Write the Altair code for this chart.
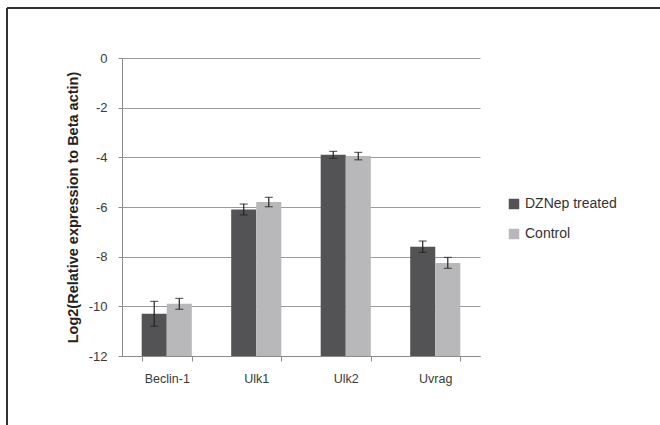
import altair as alt
import pandas as pd

genes = ["Beclin-1", "Ulk1", "Ulk2", "Uvrag"]
series = ["DZNep treated", "Control"]
dznep_vals = [-10.3, -6.1, -3.9, -7.6]
dznep_err = [0.5, 0.22, 0.14, 0.23]
control_vals = [-9.9, -5.8, -3.95, -8.25]
control_err = [0.22, 0.19, 0.15, 0.22]
y_ticks = [-12, -10, -8, -6, -4, -2, 0]

rows = []
for i, g in enumerate(genes):
    rows.append({"gene": g, "series": series[0], "value": dznep_vals[i],
                 "lo": dznep_vals[i] - dznep_err[i], "hi": dznep_vals[i] + dznep_err[i]})
    rows.append({"gene": g, "series": series[1], "value": control_vals[i],
                 "lo": control_vals[i] - control_err[i], "hi": control_vals[i] + control_err[i]})
df = pd.DataFrame(rows)

FONT = "Liberation Sans"
W, H = 358, 298

x_enc = alt.X("gene:N", sort=genes, title=None,
              scale=alt.Scale(paddingInner=0.44, paddingOuter=0.22),
              axis=alt.Axis(labelAngle=0, tickBand="extent", labelFontSize=12.5,
                            labelColor="#3a3a3a", labelFont=FONT, labelPadding=11,
                            domainColor="#8c8c8c", tickColor="#8c8c8c", tickSize=5))
xo = alt.XOffset("series:N", sort=series, scale=alt.Scale(paddingInner=0))

bars = alt.Chart(df).mark_bar(stroke=None).encode(
    x=x_enc,
    xOffset=xo,
    y=alt.Y("value:Q", scale=alt.Scale(domain=[-12, 0], nice=False, zero=False),
            title="Log2(Relative expression to Beta actin)",
            axis=alt.Axis(values=y_ticks, gridColor="#9a9a9a", gridWidth=1,
                          labelExpr="toString(datum.value)",
                          domainColor="#8c8c8c", tickColor="#8c8c8c", tickSize=4,
                          labelFontSize=13, labelColor="#3a3a3a", labelFont=FONT,
                          labelPadding=11, titleFont=FONT, titleFontSize=14.5,
                          titleFontWeight="bold", titleColor="#222222",
                          titleX=-49, titleY=H / 2, titleAngle=270,
                          titleAlign="center", titleBaseline="middle")),
    y2=alt.datum(-12),
    color=alt.Color("series:N", sort=series,
                    scale=alt.Scale(domain=series, range=["#535355", "#b8b8ba"]),
                    legend=alt.Legend(title=None, orient="none", legendX=385, legendY=139,
                                      symbolType="square", symbolSize=110,
                                      symbolStrokeWidth=0, labelFont=FONT,
                                      labelFontSize=14, labelColor="#333333",
                                      rowPadding=16, labelOffset=4)),
)

err = alt.Chart(df).mark_rule(color="#222222", strokeWidth=1.2).encode(
    x=alt.X("gene:N", sort=genes), xOffset=xo,
    y="lo:Q", y2="hi:Q")

cap_lo = alt.Chart(df).mark_tick(color="#222222", thickness=1.2, size=8, orient="horizontal").encode(
    x=alt.X("gene:N", sort=genes), xOffset=xo, y="lo:Q")
cap_hi = alt.Chart(df).mark_tick(color="#222222", thickness=1.2, size=8, orient="horizontal").encode(
    x=alt.X("gene:N", sort=genes), xOffset=xo, y="hi:Q")

frame_left = alt.Chart(df).mark_rule(color="#333333", strokeWidth=1.2).encode(
    x=alt.value(-115), y=alt.value(-50), y2=alt.value(H + 80))
frame_top = alt.Chart(df).mark_rule(color="#333333", strokeWidth=1.2).encode(
    x=alt.value(-115), x2=alt.value(W + 200), y=alt.value(-50))

chart = alt.layer(bars, err, cap_lo, cap_hi, frame_left, frame_top).properties(
    width=W, height=H,
    autosize=alt.AutoSizeParams(type="none"),
    padding={"left": 122, "top": 58, "right": 180, "bottom": 69},
    background="white",
).configure_view(stroke=None)

chart.save("out.html", embed_options={"renderer": "svg", "actions": False})
